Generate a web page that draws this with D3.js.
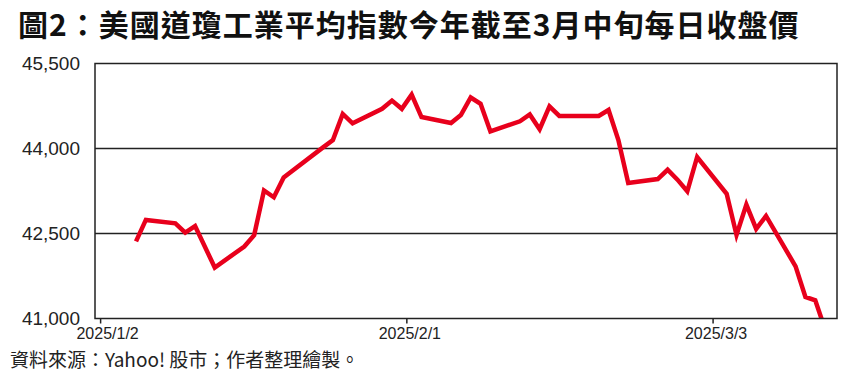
<!DOCTYPE html>
<html>
<head>
<meta charset="utf-8">
<script src="https://cdn.jsdelivr.net/npm/d3@7"></script>
<style>
  body { margin: 0; background: #fff; }
  svg { display: block; }
</style>
</head>
<body>
<div id="chart"></div>
<script>
// closing prices
var dates = ["2025-01-02","2025-01-03","2025-01-06","2025-01-07","2025-01-08","2025-01-10",
  "2025-01-13","2025-01-14","2025-01-15","2025-01-16","2025-01-17","2025-01-21","2025-01-22",
  "2025-01-23","2025-01-24","2025-01-27","2025-01-28","2025-01-29","2025-01-30","2025-01-31",
  "2025-02-03","2025-02-04","2025-02-05","2025-02-06","2025-02-07","2025-02-10","2025-02-11",
  "2025-02-12","2025-02-13","2025-02-14","2025-02-18","2025-02-19","2025-02-20","2025-02-21",
  "2025-02-24","2025-02-25","2025-02-26","2025-02-27","2025-02-28","2025-03-03","2025-03-04",
  "2025-03-05","2025-03-06","2025-03-07","2025-03-10","2025-03-11","2025-03-12","2025-03-13"];
var closes = [42360,42740,42680,42515,42630,41900,
  42270,42470,43260,43140,43490,44020,44150,
  44610,44445,44700,44845,44700,44950,44555,
  44450,44590,44900,44790,44300,44480,44600,
  44340,44745,44575,44575,44680,44150,43390,
  43460,43625,43450,43245,43850,43200,42475,
  43010,42580,42810,41920,41380,41320,40810];
var yTicks = [41000, 42500, 44000, 45500];
var xTickLabels = ["2025/1/2", "2025/2/1", "2025/3/3"];

var title = "圖2：美國道瓊工業平均指數今年截至3月中旬每日收盤價";
var source = "資料來源：Yahoo! 股市；作者整理繪製。";

var W = 867, H = 381;
var margin = {left: 95, right: 30, top: 63.5, bottom: 62.5};
var w = W - margin.left - margin.right,
    h = H - margin.top - margin.bottom;

var parse = d3.utcParse("%Y-%m-%d");
var data = dates.map(function(d, i){
  return {date: parse(d), value: closes[i]};
});

var svg = d3.select("#chart").append("svg")
    .attr("width", W)
    .attr("height", H);

svg.append("text")
    .attr("x", 18)
    .attr("y", 36)
    .attr("font-family", "'Noto Sans CJK TC', 'Noto Sans CJK SC', sans-serif")
    .attr("font-weight", 700)
    .attr("font-size", 30)
    .attr("letter-spacing", 1)
    .attr("fill", "#111")
    .text(title);

var g = svg.append("g")
    .attr("transform", "translate(" + margin.left + "," + margin.top + ")");

// the line and the date labels sit on slightly different day spacings in the original
var x = d3.scaleUtc()
    .domain([new Date(Date.UTC(2024, 11, 28, 20)), new Date(Date.UTC(2025, 2, 14, 5))])
    .range([0, w]);
var xLab = d3.scaleUtc()
    .domain([new Date(Date.UTC(2025, 0, 1, 12)), new Date(Date.UTC(2025, 2, 15, 4, 30))])
    .range([0, w]);
var y = d3.scaleLinear()
    .domain([41000, 45500])
    .range([h, 0]);

// grid lines
g.selectAll("line.grid")
  .data(yTicks.slice(1, 3))
  .enter()
  .append("line")
  .attr("class", "grid")
  .attr("x1", 0)
  .attr("x2", w)
  .attr("y1", function(d){ return y(d); })
  .attr("y2", function(d){ return y(d); })
  .attr("stroke", "#222")
  .attr("stroke-width", 1.5);

// y labels
var yAxis = d3.axisLeft(y)
    .tickValues(yTicks)
    .tickSize(0)
    .tickPadding(15)
    .tickFormat(d3.format(","));
var ya = g.append("g").call(yAxis);
ya.select(".domain").remove();
ya.selectAll("text")
    .attr("font-family", "'Liberation Sans', Arial, sans-serif")
    .attr("font-size", 19)
    .attr("fill", "#222");

// x axis
var tickDates = xTickLabels.map(function(s){
  var p = s.split("/");
  return new Date(Date.UTC(+p[0], +p[1] - 1, +p[2]));
});
var xAxis = d3.axisBottom(xLab)
    .tickValues(tickDates)
    .tickSize(5)
    .tickPadding(4)
    .tickFormat(function(d, i){ return xTickLabels[i]; });
var xa = g.append("g")
    .attr("transform", "translate(0," + h + ")")
    .call(xAxis);
xa.select(".domain").remove();
xa.selectAll("line").attr("stroke", "#222").attr("stroke-width", 1.5);
xa.selectAll("text")
    .attr("font-family", "'Liberation Sans', Arial, sans-serif")
    .attr("font-size", 16)
    .attr("fill", "#222")
    .attr("dx", function(d, i){ return i == 0 ? 7 : 3; });

svg.append("clipPath")
    .attr("id", "plot-clip")
  .append("rect")
    .attr("width", w)
    .attr("height", h);

var line = d3.line()
    .x(function(d){ return x(d.date); })
    .y(function(d){ return y(d.value); });

g.append("path")
    .datum(data)
    .attr("clip-path", "url(#plot-clip)")
    .attr("fill", "none")
    .attr("stroke", "#e8001c")
    .attr("stroke-width", 4.5)
    .attr("stroke-linejoin", "miter")
    .attr("d", line);

// plot frame
g.append("rect")
    .attr("width", w)
    .attr("height", h)
    .attr("fill", "none")
    .attr("stroke", "#222")
    .attr("stroke-width", 1.5);

svg.append("text")
    .attr("x", 10)
    .attr("y", 367)
    .attr("font-family", "'Noto Sans CJK TC', 'Noto Sans CJK SC', sans-serif")
    .attr("font-size", 19)
    .attr("fill", "#222")
    .text(source);
</script>
</body>
</html>
